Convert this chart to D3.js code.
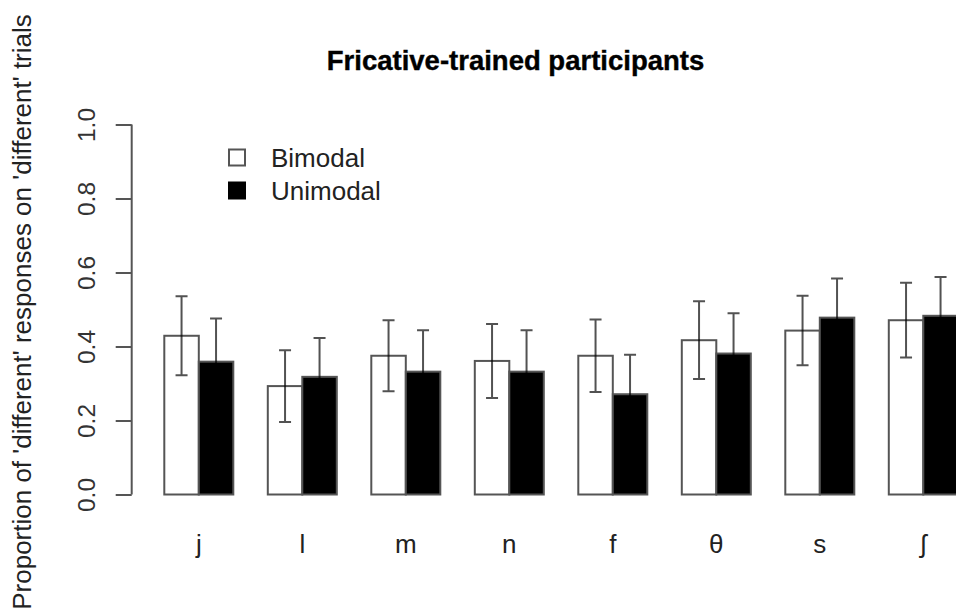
<!DOCTYPE html>
<html>
<head>
<meta charset="utf-8">
<script src="https://cdn.jsdelivr.net/npm/d3@7"></script>
<style>
  html, body { margin: 0; padding: 0; background: #fff; overflow: hidden; }
  svg { display: block; font-family: "Liberation Sans", Arial, Helvetica, sans-serif; }
</style>
</head>
<body>
<svg id="chart" width="956" height="615"></svg>
<script>
const categories = ["j", "l", "m", "n", "f", "θ", "s", "ʃ"];
const seriesNames = ["Bimodal", "Unimodal"];
const bimodal = [0.429, 0.293, 0.375, 0.361, 0.375, 0.417, 0.443, 0.471];
const unimodal = [0.359, 0.318, 0.332, 0.332, 0.271, 0.381, 0.478, 0.483];
const bimodalErr = [0.107, 0.097, 0.096, 0.100, 0.098, 0.105, 0.094, 0.101];
const unimodalErr = [0.117, 0.105, 0.112, 0.112, 0.107, 0.109, 0.106, 0.105];
const yTicks = [0, 0.2, 0.4, 0.6, 0.8, 1.0];
const titleText = "Fricative-trained participants";
const yTitle = "Proportion of 'different' responses on 'different' trials";

const fills = { "Bimodal": "#ffffff", "Unimodal": "#000000" };
const values = { "Bimodal": bimodal, "Unimodal": unimodal };
const errs = { "Bimodal": bimodalErr, "Unimodal": unimodalErr };

const svg = d3.select("#chart");
const grey = "#555";

const y = d3.scaleLinear().domain([0, 1]).range([494.5, 124.5]);
const x0 = d3.scaleBand().domain(categories).range([129.8, 992.3])
  .paddingInner(1/3).paddingOuter(1/3);
const x1 = d3.scaleBand().domain(seriesNames).range([0, x0.bandwidth()]).padding(0);

// title
svg.append("text")
  .attr("x", 515.5).attr("y", 70)
  .attr("text-anchor", "middle")
  .attr("font-weight", "bold")
  .attr("font-size", 27.5)
  .attr("fill", "#000")
  .attr("stroke", "#000").attr("stroke-width", 0.4)
  .text(titleText);

// y axis title
svg.append("text")
  .attr("transform", "translate(31,312) rotate(-90)")
  .attr("text-anchor", "middle")
  .attr("font-size", 26)
  .attr("fill", "#222")
  .text(yTitle);

// y axis
const yAxis = d3.axisLeft(y).tickValues(yTicks).tickFormat(d3.format(".1f")).tickSize(16).tickPadding(0);
const gAxis = svg.append("g").attr("transform", "translate(131.7,0)").call(yAxis);
gAxis.select(".domain").attr("stroke", grey).attr("stroke-width", 2).attr("d", `M0,${y(0)}V${y(1)}`);
gAxis.selectAll(".tick line").attr("stroke", grey).attr("stroke-width", 2);
gAxis.selectAll(".tick text")
  .attr("font-size", 24.5)
  .attr("fill", "#333")
  .attr("font-family", "Liberation Sans, Arial, sans-serif")
  .attr("text-anchor", "middle")
  .attr("dy", 0)
  .attr("transform", "translate(-36.7,0) rotate(-90)")
  .attr("x", 0).attr("y", 0);

// bars
const groups = svg.append("g").selectAll("g")
  .data(categories)
  .join("g")
  .attr("transform", d => `translate(${x0(d)},0)`);

groups.selectAll("rect")
  .data((c, i) => seriesNames.map(s => ({ s, v: values[s][i], e: errs[s][i] })))
  .join("rect")
  .attr("x", d => x1(d.s))
  .attr("y", d => y(d.v))
  .attr("width", x1.bandwidth())
  .attr("height", d => y(0) - y(d.v))
  .attr("fill", d => fills[d.s])
  .attr("stroke", grey)
  .attr("stroke-width", 2);

// error bars (semi-transparent black: grey on white, invisible on black)
const capW = 6;
const errCol = "rgba(0,0,0,0.68)";
const eb = groups.selectAll("g.err")
  .data((c, i) => seriesNames.map(s => ({ s, v: values[s][i], e: errs[s][i] })))
  .join("g").attr("class", "err");
eb.append("path")
  .attr("d", d => {
    const cx = x1(d.s) + x1.bandwidth() / 2;
    const t = y(d.v + d.e), b = y(d.v - d.e);
    return `M${cx - capW},${t}H${cx + capW}M${cx},${t}V${b}M${cx - capW},${b}H${cx + capW}`;
  })
  .attr("fill", "none")
  .attr("stroke", errCol).attr("stroke-width", 2);

// category labels
svg.append("g").selectAll("text")
  .data(categories)
  .join("text")
  .attr("x", d => x0(d) + x0.bandwidth() / 2)
  .attr("y", 553)
  .attr("text-anchor", "middle")
  .attr("font-size", 26)
  .attr("fill", "#222")
  .text(d => d);

// legend
const leg = svg.append("g").selectAll("g")
  .data(seriesNames)
  .join("g")
  .attr("transform", (d, i) => `translate(229,${149.5 + i * 33})`);
leg.append("rect")
  .attr("width", 16).attr("height", 16)
  .attr("fill", d => fills[d])
  .attr("stroke", d => d === "Bimodal" ? grey : "#000")
  .attr("stroke-width", 2);
leg.append("text")
  .attr("x", 42).attr("y", 17)
  .attr("font-size", 26)
  .attr("fill", "#222")
  .text(d => d);
</script>
</body>
</html>
